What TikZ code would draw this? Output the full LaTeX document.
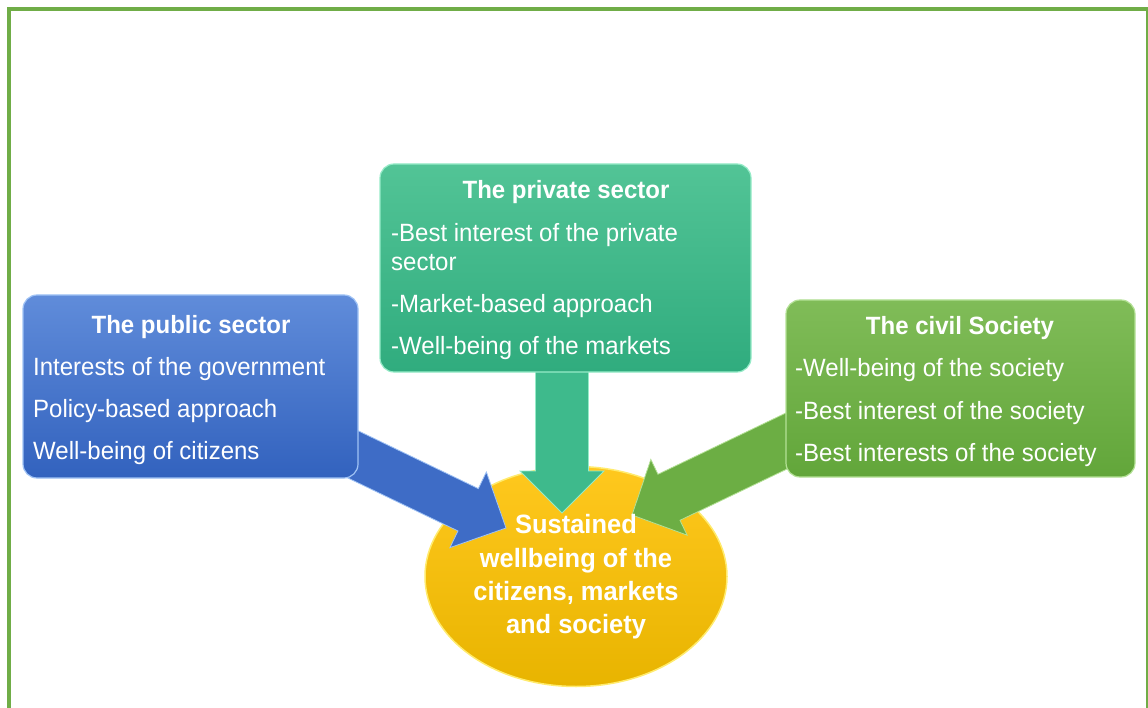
\documentclass[tikz,border=0pt]{standalone}
\usepackage{fontspec}
\setmainfont{Liberation Sans}[FakeStretch=0.96]
\usetikzlibrary{calc,shapes.geometric}
\definecolor{framegreen}{RGB}{112,173,71}
\definecolor{bluetop}{RGB}{96,140,218}
\definecolor{bluebot}{RGB}{50,98,190}
\definecolor{blueedge}{RGB}{160,195,245}
\definecolor{bluearr}{RGB}{62,108,198}
\definecolor{tealtop}{RGB}{82,196,150}
\definecolor{tealbot}{RGB}{48,172,126}
\definecolor{tealedge}{RGB}{150,235,200}
\definecolor{tealarr}{RGB}{62,186,140}
\definecolor{leaftop}{RGB}{128,188,88}
\definecolor{leafbot}{RGB}{98,166,58}
\definecolor{leafedge}{RGB}{180,225,150}
\definecolor{leafarr}{RGB}{108,174,68}
\definecolor{goldtop}{RGB}{255,200,30}
\definecolor{goldbot}{RGB}{232,180,0}
\definecolor{goldedge}{RGB}{255,235,110}
\newcommand{\barrow}[6]{%
  \coordinate (hb) at ($(#2)!#5!(#1)$);
  \path[#6] ($(#1)!#3!90:(#2)$) -- ($(hb)!#3!90:(#2)$) -- ($(hb)!#4!90:(#2)$) -- (#2)
    -- ($(hb)!#4!-90:(#2)$) -- ($(hb)!#3!-90:(#2)$) -- ($(#1)!#3!-90:(#2)$) -- cycle;
}
\begin{document}
\begin{tikzpicture}[x=1pt,y=-1pt,
  framestyle/.style={draw=framegreen, line width=3.6pt},
  boxstyle/.style={rounded corners=14pt, line width=1.2pt},
  bodytext/.style={text=white, inner sep=0pt, anchor=base west, font=\fontsize{25}{29}\selectfont},
  titletext/.style={text=white, inner sep=0pt, anchor=base, font=\fontsize{25}{29}\selectfont\bfseries},
  goaltext/.style={text=white, inner sep=0pt, align=center, font=\fontsize{26.5}{33.3}\selectfont\bfseries},
  bluearrow/.style={fill=bluearr, draw=blueedge, line width=0.8pt, line join=miter},
  tealarrow/.style={fill=tealarr, draw=tealedge, line width=0.8pt, line join=miter},
  leafarrow/.style={fill=leafarr, draw=leafedge, line width=0.8pt, line join=miter}
]
\useasboundingbox (0,0) rectangle (1148,708);
\clip (0,0) rectangle (1148,708);
% frame
\draw[framestyle] (9,715) -- (9,9) -- (1147.5,9) -- (1147.5,715);

% goal ellipse
\node[ellipse, inner sep=0pt, minimum width=302pt, minimum height=220pt,
  top color=goldtop, bottom color=goldbot, draw=goldedge, line width=1.5pt] (goal) at (576,576.5) {};

% arrow coordinates
\coordinate (pubS) at (330,443.3);
\coordinate (pubE) at (506,528);
\coordinate (priS) at (562,360);
\coordinate (priE) at (562,513);
\coordinate (civS) at (800,434.5);
\coordinate (civE) at (632,515);

\barrow{pubS}{pubE}{23.5pt}{42pt}{42pt}{bluearrow}
\barrow{priS}{priE}{26.5pt}{42pt}{42pt}{tealarrow}
\barrow{civS}{civE}{25.5pt}{42pt}{41pt}{leafarrow}

% boxes
\path[boxstyle, top color=bluetop, bottom color=bluebot, draw=blueedge] (23,295) rectangle (358,478);
\node[inner sep=0pt, minimum width=335pt, minimum height=183pt] (pub) at (190.5,386.5) {};
\path[boxstyle, top color=tealtop, bottom color=tealbot, draw=tealedge] (380,164) rectangle (751,372);
\node[inner sep=0pt, minimum width=371pt, minimum height=208pt] (pri) at (565.5,268) {};
\path[boxstyle, top color=leaftop, bottom color=leafbot, draw=leafedge] (786,300) rectangle (1135,477);
\node[inner sep=0pt, minimum width=349pt, minimum height=177pt] (civ) at (960.5,388.5) {};

% public sector text
\node[titletext] (pubTitle) at (191,334) {The public sector};
\node[bodytext] (pub1) at (33,375) {Interests of the government};
\node[bodytext] (pub2) at (33,417) {Policy-based approach};
\node[bodytext] (pub3) at (33,459) {Well-being of citizens};

% private sector text
\node[titletext] (priTitle) at (566,199) {The private sector};
\node[bodytext] (pri1) at (391,242) {-Best interest of the private};
\node[bodytext] (pri1b) at (391,271) {sector};
\node[bodytext] (pri2) at (391,313) {-Market-based approach};
\node[bodytext] (pri3) at (391,355) {-Well-being of the markets};

% civil society text
\node[titletext] (civTitle) at (960,335) {The civil Society};
\node[bodytext] (civ1) at (795,377) {-Well-being of the society};
\node[bodytext] (civ2) at (795,419) {-Best interest of the society};
\node[bodytext] (civ3) at (795,461) {-Best interests of the society};

% goal text
\node[goaltext] (goalText) at (576,577) {Sustained\\wellbeing of the\\citizens, markets\\and society};
\end{tikzpicture}
\end{document}
